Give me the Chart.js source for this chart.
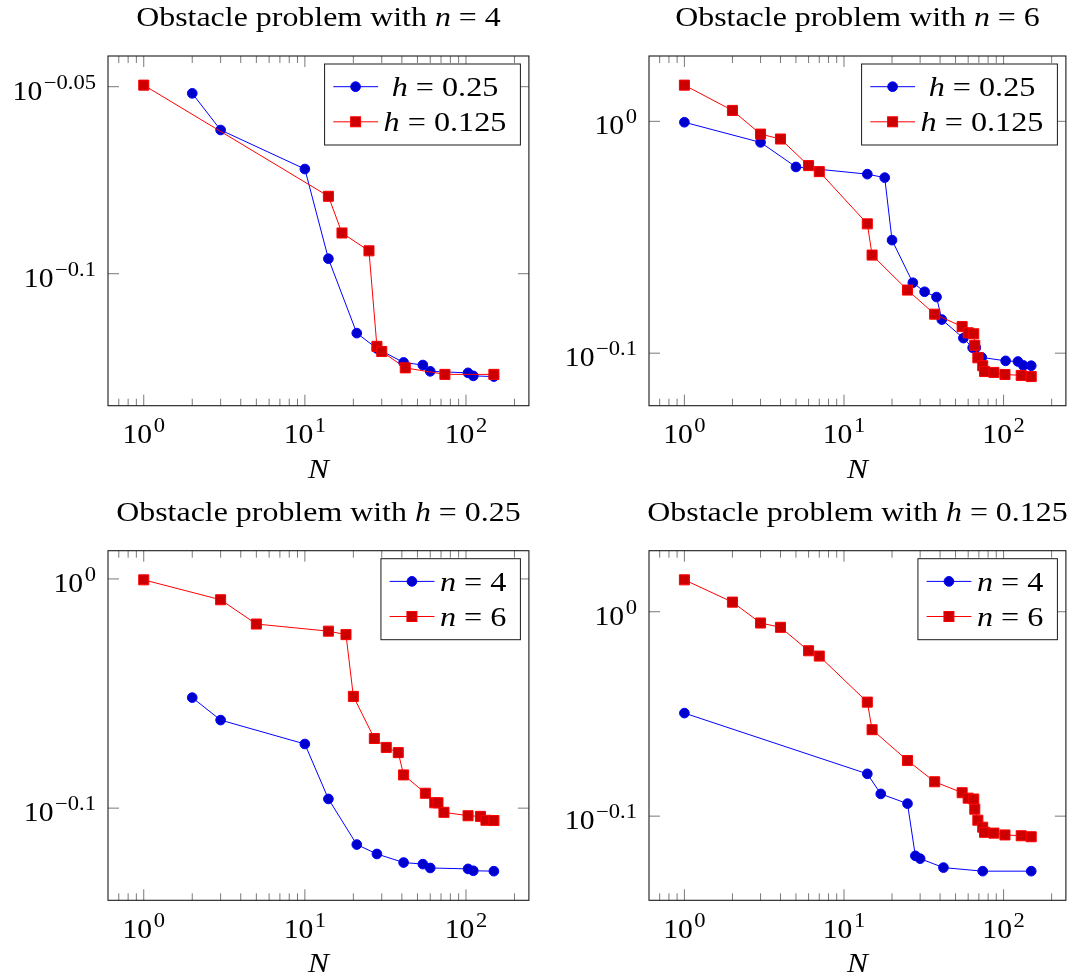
<!DOCTYPE html>
<html>
<head>
<meta charset="utf-8">
<script src="https://cdn.jsdelivr.net/npm/chart.js@4/dist/chart.umd.min.js"></script>
<style>
  html, body { margin: 0; padding: 0; background: #fff; }
  #wrap { position: relative; width: 1074px; height: 975px; overflow: hidden; background: #fff; }
  canvas { position: absolute; }
</style>
</head>
<body>
<div id="wrap">
  <canvas id="p0" width="537" height="487" style="left:0;top:0"></canvas>
  <canvas id="p1" width="537" height="487" style="left:537px;top:0"></canvas>
  <canvas id="p2" width="537" height="488" style="left:0;top:487px"></canvas>
  <canvas id="p3" width="537" height="488" style="left:537px;top:487px"></canvas>
</div>
<script>
// Error against number of basis functions N, for polynomial degree n and mesh size h.
const N_n4_h025  = [2, 3, 10, 14, 21, 28, 41, 54, 60, 103, 111, 149];
const E_n4_h025  = [0.8876, 0.8678, 0.8472, 0.8017, 0.7658, 0.7586, 0.7521, 0.7509, 0.7480, 0.7473, 0.7459, 0.7456];

const N_n4_h0125 = [1, 14, 17, 25, 28, 30, 42, 74, 149];
const E_n4_h0125 = [0.8921, 0.8331, 0.8145, 0.8056, 0.7596, 0.7572, 0.7496, 0.7466, 0.7466];

const N_n6_h025  = [1, 3, 5, 14, 18, 20, 27, 32, 38, 41, 56, 64, 67, 73, 103, 123, 133, 149];
const E_n6_h025  = [0.9991, 0.9793, 0.9557, 0.9489, 0.9456, 0.8887, 0.8519, 0.8443, 0.8399, 0.8213, 0.8063, 0.7986, 0.7986, 0.7910, 0.7883, 0.7878, 0.7847, 0.7845];

const N_n6_h0125 = [1, 2, 3, 4, 6, 7, 14, 15, 25, 37, 55, 60, 65, 66, 69, 74, 76, 87, 102, 129, 149];
const E_n6_h0125 = [1.0366, 1.0109, 0.9874, 0.9826, 0.9570, 0.9513, 0.9032, 0.8756, 0.8457, 0.8257, 0.8156, 0.8106, 0.8098, 0.8006, 0.7907, 0.7845, 0.7800, 0.7793, 0.7777, 0.7770, 0.7761];

// Axis ticks (decade exponents and minor positions)
const xMajor    = [1, 10, 100];
const xMajorExp = ['0', '1', '2'];
const xMinor    = [0.7, 0.8, 0.9, 2, 3, 4, 5, 6, 7, 8, 9, 20, 30, 40, 50, 60, 70, 80, 90, 200];
const yExpA     = [-0.1, -0.05];
const yLabA     = ['\u22120.1', '\u22120.05'];
const yExpB     = [-0.1, 0];
const yLabB     = ['\u22120.1', '0'];

const SERIF = '"Liberation Serif", "Times New Roman", serif';
const FS = 28;
const BLUE = { line: '#0000ff', fill: '#0000cc' };
const RED  = { line: '#ff0000', fill: '#cc0000' };

function toPoints(xs, ys) { return xs.map((v, i) => ({ x: v, y: ys[i] })); }

function logRange(values) {
  const lo = Math.log10(Math.min(...values));
  const hi = Math.log10(Math.max(...values));
  const pad = 0.1 * (hi - lo);
  return [Math.pow(10, lo - pad), Math.pow(10, hi + pad)];
}

const allN = [].concat(N_n4_h025, N_n4_h0125, N_n6_h025, N_n6_h0125);
const [xMin, xMax] = logRange(allN);

const panels = [
  { id: 'p0', off: [0, 0],     area: [108, 56, 532.5, 405.7],
    title: [['Obstacle problem with ', 0], ['n', 1], [' = 4', 0]],
    key: 'h', keys: [' = 0.25', ' = 0.125'],
    blue: [N_n4_h025, E_n4_h025], red: [N_n4_h0125, E_n4_h0125], yExp: yExpA, yLab: yLabA },
  { id: 'p1', off: [537, 0],   area: [649, 56, 1073, 405.7],
    title: [['Obstacle problem with ', 0], ['n', 1], [' = 6', 0]],
    key: 'h', keys: [' = 0.25', ' = 0.125'],
    blue: [N_n6_h025, E_n6_h025], red: [N_n6_h0125, E_n6_h0125], yExp: yExpB, yLab: yLabB },
  { id: 'p2', off: [0, 487],   area: [108, 550.7, 532.5, 900.3],
    title: [['Obstacle problem with ', 0], ['h', 1], [' = 0.25', 0]],
    key: 'n', keys: [' = 4', ' = 6'],
    blue: [N_n4_h025, E_n4_h025], red: [N_n6_h025, E_n6_h025], yExp: yExpB, yLab: yLabB },
  { id: 'p3', off: [537, 487], area: [649, 550.7, 1073, 900.3],
    title: [['Obstacle problem with ', 0], ['h', 1], [' = 0.125', 0]],
    key: 'n', keys: [' = 4', ' = 6'],
    blue: [N_n4_h0125, E_n4_h0125], red: [N_n6_h0125, E_n6_h0125], yExp: yExpB, yLab: yLabB }
];

function font(size, italic) { return (italic ? 'italic ' : '') + size + 'px ' + SERIF; }

// Text drawn with a slight horizontal widening (serif metrics closer to TeX's)
function fillStretched(ctx, t, x, base, sx) {
  ctx.save();
  ctx.translate(x, base);
  ctx.scale(sx, 1);
  ctx.fillText(t, 0, 0);
  ctx.restore();
}

function runsWidth(ctx, runs, sx) {
  let total = 0;
  runs.forEach(([t, it]) => { ctx.font = font(FS, it); total += ctx.measureText(t).width * sx; });
  return total;
}

// Draw a sequence of [text, italic] runs aligned as a whole
function drawRuns(ctx, runs, x, base, align, sx) {
  const total = runsWidth(ctx, runs, sx);
  let cx = align === 'center' ? x - total / 2 : align === 'right' ? x - total : x;
  ctx.textAlign = 'left';
  ctx.textBaseline = 'alphabetic';
  runs.forEach(([t, it]) => {
    ctx.font = font(FS, it);
    const w = ctx.measureText(t).width * sx;
    fillStretched(ctx, t, cx, base, sx);
    cx += w;
  });
}

// "10" with a raised exponent
function drawPow(ctx, exp, x, base, align) {
  const sx = 1.06;
  ctx.font = font(FS, false);
  const wb = ctx.measureText('10').width * sx;
  const es = FS * 0.72;
  ctx.font = font(es, false);
  const we = ctx.measureText(exp).width * 1.12;
  const total = wb + 1.5 + we;
  const x0 = align === 'center' ? x - total / 2 : align === 'right' ? x - total : x;
  ctx.textAlign = 'left';
  ctx.textBaseline = 'alphabetic';
  ctx.font = font(FS, false);
  fillStretched(ctx, '10', x0, base, sx);
  ctx.font = font(es, false);
  fillStretched(ctx, exp, x0 + wb + 1.5, base - 11, 1.12);
}

function drawMarker(ctx, kind, x, y) {
  ctx.lineWidth = 1;
  if (kind === 'circle') {
    ctx.beginPath(); ctx.arc(x, y, 4.85, 0, Math.PI * 2);
    ctx.fillStyle = BLUE.fill; ctx.fill(); ctx.strokeStyle = BLUE.line; ctx.stroke();
  } else {
    const s = 5.0;
    ctx.fillStyle = RED.fill; ctx.fillRect(x - s, y - s, 2 * s, 2 * s);
    ctx.strokeStyle = RED.line; ctx.strokeRect(x - s, y - s, 2 * s, 2 * s);
  }
}

const decor = {
  id: 'decor',
  afterDraw(chart) {
    const p = chart.options.plugins.decor.panel;
    const ctx = chart.ctx;
    const { left, top, right, bottom } = chart.chartArea;
    const xs = chart.scales.x, ys = chart.scales.y;
    ctx.save();

    // tick marks, drawn inward on all four sides
    ctx.strokeStyle = '#6a6a6a';
    ctx.lineWidth = 0.9;
    const tick = (x1, y1, x2, y2) => { ctx.beginPath(); ctx.moveTo(x1, y1); ctx.lineTo(x2, y2); ctx.stroke(); };
    xMinor.forEach(v => {
      const px = xs.getPixelForValue(v);
      if (px <= left || px >= right) return;
      tick(px, bottom, px, bottom - 7); tick(px, top, px, top + 7);
    });
    xMajor.forEach(v => {
      const px = xs.getPixelForValue(v);
      tick(px, bottom, px, bottom - 11); tick(px, top, px, top + 11);
    });
    const yVals = p.yExp.map(e => Math.pow(10, e));
    yVals.forEach(v => {
      const py = ys.getPixelForValue(v);
      tick(left, py, left + 11, py); tick(right, py, right - 11, py);
    });

    // frame
    ctx.strokeStyle = '#1a1a1a';
    ctx.lineWidth = 1.1;
    ctx.strokeRect(left, top, right - left, bottom - top);

    ctx.fillStyle = '#000';
    // x tick labels
    xMajor.forEach((v, i) => drawPow(ctx, xMajorExp[i], xs.getPixelForValue(v), bottom + 37.7, 'center'));
    // y tick labels
    yVals.forEach((v, i) => drawPow(ctx, p.yLab[i], left - 12, ys.getPixelForValue(v) + 13, 'right'));
    // axis label
    drawRuns(ctx, [['N', 1]], (left + right) / 2, bottom + 72, 'center', 1.12);
    // title
    drawRuns(ctx, p.title, (left + right) / 2, top - 30, 'center', 1.14);

    // legend
    const LSX = 1.15;
    const rows = p.keys.map(k => [[p.key, 1], [k, 0]]);
    const colW = Math.max(...rows.map(r => runsWidth(ctx, r, LSX)));
    const bw = 59 + colW + 14, bh = 81;
    const bx = right - 8.5 - bw, by = top + 8;
    ctx.fillStyle = '#fff';
    ctx.fillRect(bx, by, bw, bh);
    ctx.strokeStyle = '#1a1a1a';
    ctx.lineWidth = 1;
    ctx.strokeRect(bx, by, bw, bh);
    const rowY = [by + 22.7, by + 57.8];
    const styles = [[BLUE, 'circle'], [RED, 'rect']];
    rows.forEach((r, i) => {
      const [col, kind] = styles[i];
      ctx.strokeStyle = col.line; ctx.lineWidth = 1;
      ctx.beginPath(); ctx.moveTo(bx + 8.7, rowY[i]); ctx.lineTo(bx + 53.5, rowY[i]); ctx.stroke();
      drawMarker(ctx, kind, bx + 31, rowY[i]);
      ctx.fillStyle = '#000';
      drawRuns(ctx, r, bx + 59 + colW / 2, rowY[i] + 9.5, 'center', LSX);
    });
    ctx.restore();
  }
};

panels.forEach(p => {
  const canvas = document.getElementById(p.id);
  const W = canvas.width, H = canvas.height;
  const [l, t, r, b] = p.area;
  const [ox, oy] = p.off;
  const [yMin, yMax] = logRange([].concat(p.blue[1], p.red[1]));
  new Chart(canvas, {
    type: 'line',
    data: {
      datasets: [
        { data: toPoints(p.blue[0], p.blue[1]), order: 1,
          borderColor: BLUE.line, borderWidth: 1, backgroundColor: BLUE.fill,
          pointStyle: 'circle', pointRadius: 4.85, pointBorderWidth: 1,
          pointBackgroundColor: BLUE.fill, pointBorderColor: BLUE.line, tension: 0, fill: false },
        { data: toPoints(p.red[0], p.red[1]), order: 0,
          borderColor: RED.line, borderWidth: 1, backgroundColor: RED.fill,
          pointStyle: 'rect', pointRadius: 7.1, pointBorderWidth: 1,
          pointBackgroundColor: RED.fill, pointBorderColor: RED.line, tension: 0, fill: false }
      ]
    },
    options: {
      responsive: false,
      animation: false,
      devicePixelRatio: 1,
      layout: { padding: { left: l - ox, top: t - oy, right: W - (r - ox), bottom: H - (b - oy) } },
      scales: {
        x: { type: 'logarithmic', min: xMin, max: xMax, display: false },
        y: { type: 'logarithmic', min: yMin, max: yMax, display: false }
      },
      plugins: {
        legend: { display: false },
        tooltip: { enabled: false },
        decor: { panel: p }
      }
    },
    plugins: [decor]
  });
});
</script>
</body>
</html>
